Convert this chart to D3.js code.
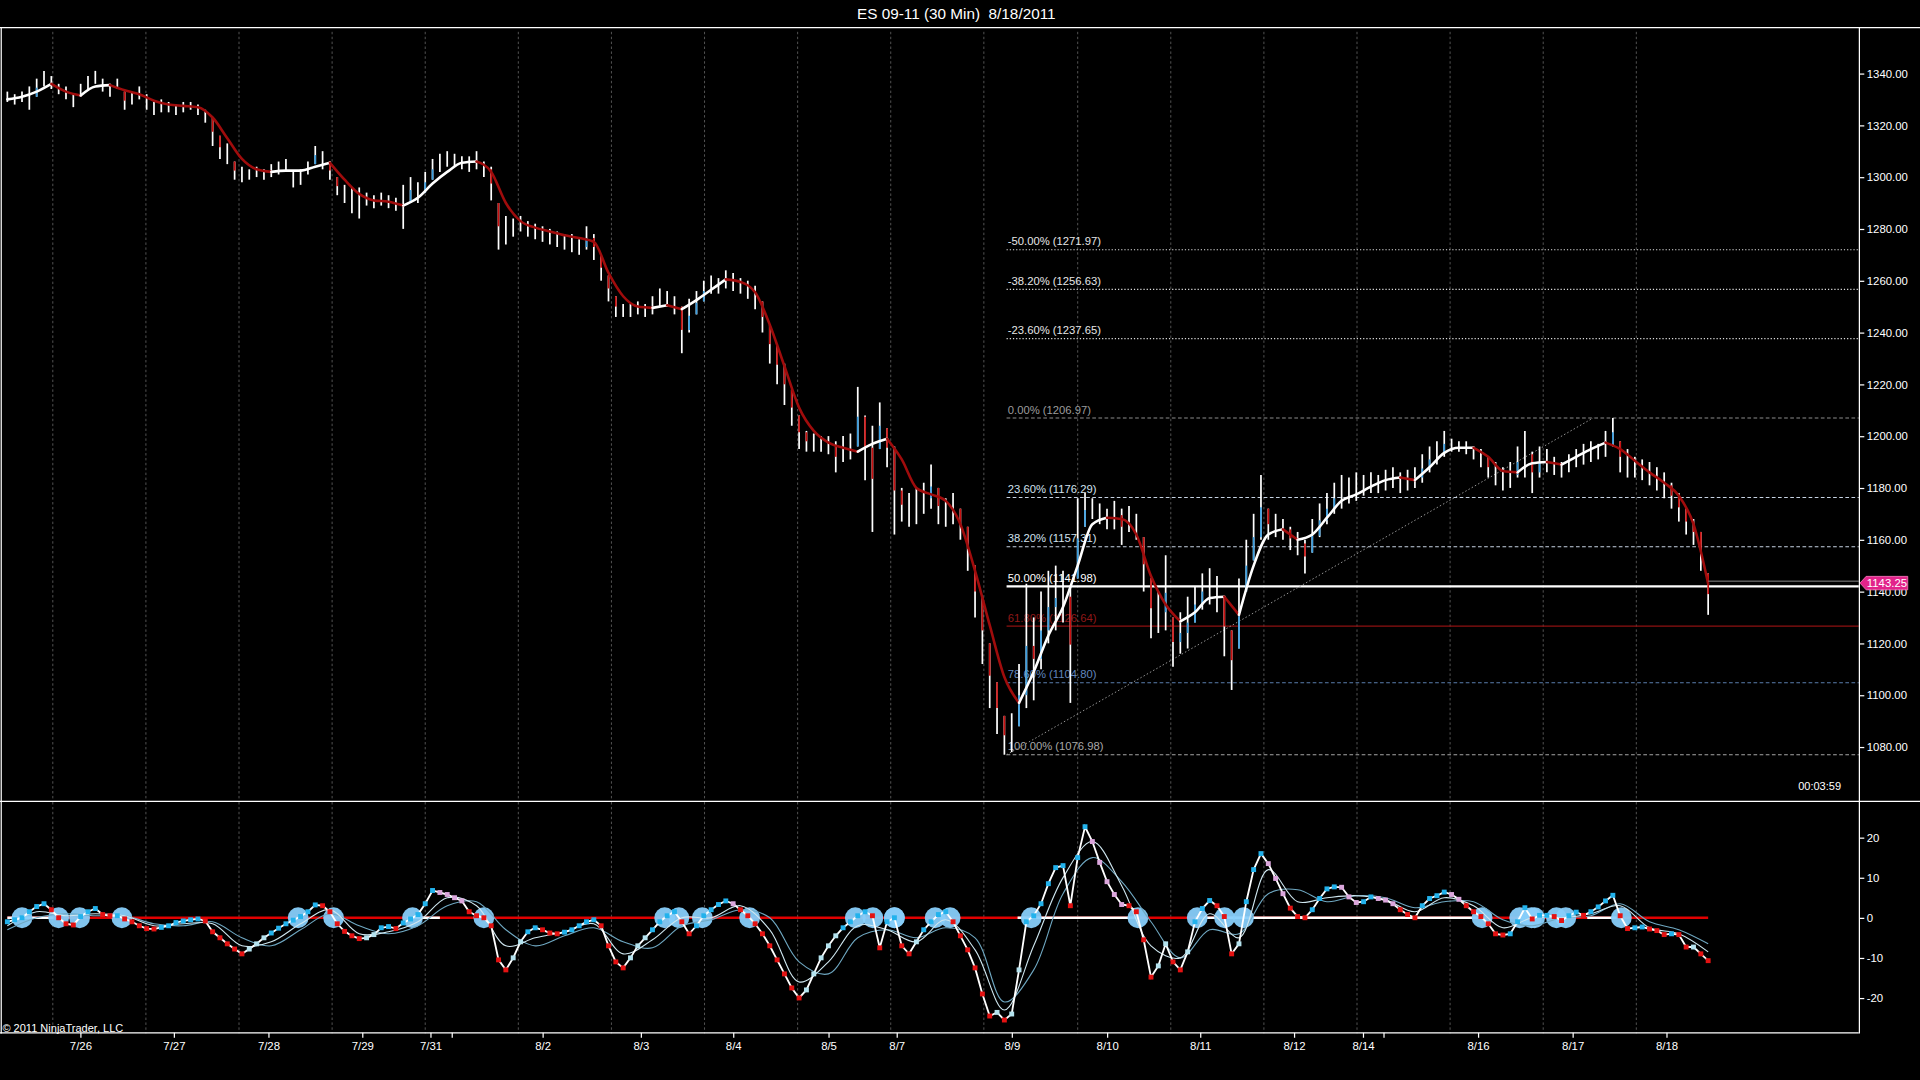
<!DOCTYPE html>
<html>
<head>
<meta charset="utf-8">
<script src="https://cdn.jsdelivr.net/npm/d3@7"></script>
<style>
html, body { margin: 0; padding: 0; background: #000; overflow: hidden; }
svg { display: block; }
text { font-family: "Liberation Sans", Arial, sans-serif; fill: #fff; }
</style>
</head>
<body>
<svg id="chart" width="1920" height="1080" viewBox="0 0 1568 882"></svg>
<script>
// ES 09-11 30 min, one entry per drawn bar (index 0..232)
const barHigh = [
  1333,1332,1333,1335,1338,1341,1339,1336,1335,1332,
  1336,1339,1341,1338,1336,1338,1333,1333,1335,1332,
  1329,1330,1329,1328,1329,1329,1328,1326,1323,1316,
  1313,1306,1304,1303,1304,1303,1305,1306,1307,1302,
  1303,1306,1312,1310,1306,1300,1297,1296,1296,1294,
  1293,1294,1293,1292,1297,1300,1298,1302,1307,1309,
  1310,1309,1308,1308,1310,1306,1304,1290,1285,1284,
  1285,1283,1282,1281,1280,1279,1278,1278,1276,1281,
  1278,1270,1262,1254,1251,1251,1252,1251,1254,1257,
  1256,1254,1250,1253,1256,1260,1262,1261,1264,1263,
  1261,1260,1258,1252,1243,1235,1228,1218,1208,1202,
  1201,1200,1200,1198,1200,1201,1219,1208,1204,1213,
  1203,1196,1180,1178,1180,1182,1189,1180,1176,1178,
  1172,1165,1150,1138,1120,1105,1092,1093,1112,1143,
  1130,1140,1148,1150,1148,1142,1176,1178,1176,1174,
  1172,1175,1172,1173,1170,1161,1145,1140,1154,1130,
  1132,1138,1142,1147,1149,1146,1138,1125,1145,1160,
  1170,1185,1172,1170,1168,1165,1163,1160,1168,1174,
  1178,1182,1185,1184,1186,1185,1186,1185,1187,1188,
  1186,1187,1188,1193,1196,1198,1202,1199,1198,1198,
  1196,1195,1192,1190,1188,1190,1196,1202,1194,1196,
  1195,1192,1190,1193,1195,1197,1198,1197,1202,1207,
  1198,1195,1192,1191,1190,1188,1186,1182,1178,1172,
  1168,1163,1147
];
const barLow = [
  1329,1328,1329,1326,1331,1335,1334,1332,1330,1327,
  1331,1334,1336,1333,1331,1334,1326,1328,1330,1326,
  1324,1325,1325,1324,1325,1326,1324,1321,1312,1307,
  1305,1299,1298,1299,1300,1299,1300,1301,1302,1296,
  1297,1301,1305,1303,1299,1293,1290,1286,1284,1289,
  1288,1289,1288,1287,1280,1290,1290,1294,1299,1302,
  1304,1304,1303,1302,1303,1300,1291,1272,1274,1277,
  1279,1277,1276,1275,1274,1273,1272,1271,1270,1272,
  1268,1260,1252,1246,1246,1246,1247,1246,1247,1250,
  1250,1247,1232,1240,1247,1252,1255,1255,1257,1256,
  1255,1253,1249,1240,1228,1220,1212,1204,1195,1194,
  1194,1194,1193,1186,1190,1191,1196,1183,1163,1195,
  1188,1162,1167,1165,1166,1170,1172,1166,1165,1166,
  1160,1148,1130,1112,1095,1085,1077,1078,1088,1095,
  1098,1110,1120,1125,1128,1097,1145,1165,1168,1166,
  1164,1164,1158,1163,1160,1140,1122,1124,1125,1111,
  1116,1118,1128,1133,1135,1132,1115,1102,1118,1140,
  1152,1160,1160,1161,1160,1156,1154,1147,1155,1161,
  1166,1170,1172,1174,1175,1177,1178,1178,1179,1180,
  1178,1179,1180,1182,1186,1189,1192,1194,1194,1193,
  1191,1188,1184,1181,1179,1180,1184,1184,1178,1184,
  1186,1185,1184,1186,1188,1189,1190,1191,1192,1196,
  1186,1184,1184,1183,1181,1179,1176,1172,1167,1162,
  1158,1148,1131
];
// moving average, one value every 2 bars
const maValues = [
  1330,1331,1333,1336,1333,1331.5,1335,1335.5,1333.5,1332,
  1329.5,1328,1327.5,1327,1323,1315,1307,1303,1302,1302.5,
  1302.5,1304,1305.5,1299,1293.5,1291,1290.5,1289,1292,1297.5,
  1302,1305.5,1306,1302,1290,1283,1280.5,1279,1277.5,1276.5,
  1275,1263,1254,1250,1249.5,1250.5,1249,1252.5,1256.5,1260.5,
  1259.5,1255.5,1243,1227,1211,1202,1197.5,1195.5,1194,1197,
  1199,1191,1180,1177.5,1175,1166,1148,1127,1107,1097,
  1109,1123,1134,1150,1166,1168.5,1168,1162,1146,1135,
  1128.5,1132,1137.5,1138,1131,1150,1162,1164,1160,1162,
  1168.5,1175,1177.5,1180.5,1183,1184,1183,1188,1193.5,1195.5,
  1195.5,1192,1186.5,1186,1189.5,1190,1189,1192,1195,1197.5,
  1195,1190.5,1186,1182,1177,1166,1143
];
// oscillator, one value per bar
const oscValues = [
  -1,-0.5,0,1.5,2.8,3.5,2,0,-1.5,-1.8,
  0.3,1.5,2.3,0.8,0.5,0.5,-0.3,-1,-2,-2.7,
  -2.8,-2.4,-2,-1.2,-0.8,-0.5,-0.3,-0.8,-3.5,-5,
  -6.5,-7.8,-9,-7.8,-6.5,-5,-3.8,-2.6,-1.5,-0.6,
  0.3,1.5,3.2,3,1.5,-1.5,-3.4,-4.5,-5.2,-5,
  -4.2,-2.5,-2.2,-2.7,-1.3,-0.3,0.8,3.5,6.8,6.3,
  5.8,5,4.2,1.5,0.5,0,-2,-10.5,-13,-10,
  -6,-3.5,-2.5,-3,-3.8,-4,-3.6,-3,-2,-1,
  -0.5,-2,-7,-11,-12.5,-10,-7,-5,-3,-1,
  0.5,1.5,-1,-4,-2,0.5,2,3.3,4.2,3.5,
  2,0.5,-1.5,-4,-7,-10.5,-14,-17.5,-20,-18,
  -14,-10,-7,-4.5,-2.5,-1,0.5,1.5,0.5,-7.5,
  -1,0,-7,-9,-6,-3,-1,0.8,1.5,-1,
  -4.5,-8,-12.5,-19,-24.5,-23.6,-25.5,-24,-13,-1,
  0.5,3.5,8.5,12.5,13,3,15,22.7,19,13.8,
  9,5.8,3.3,3,1.5,-5.5,-14.8,-12,-6.5,-11,
  -13,-8.5,-1,2.3,4.3,3,0.3,-9,-6.5,4,
  12,16,13.5,9.8,6,2.4,0.3,0,2,4.8,
  7.2,7.7,7.6,5.2,3.8,4,5.2,4.8,4.4,3.5,
  2,0.8,0,3,4.8,5.5,6.4,5.8,4.6,3,
  1.5,0.3,-1.5,-4,-4.3,-4,-1,2.5,-0.3,0.6,
  0.6,0.3,-0.7,0.5,1.4,0.6,1.5,2.7,4.2,5.6,
  0.5,-2.7,-2.5,-2.3,-2.8,-3.2,-4.2,-4,-4.2,-7.3,
  -7.3,-9,-10.7
];
// two signal lines, one value every 4 bars
const signalFast = [
  -2,1.5,0.5,1,0.5,-2,-1.5,-1.5,-7,-6,
  -1.5,2,-4,-3.5,-1,5,3,-7,-5,-3.5,
  -1.5,-9,-5.5,0,0,3,-3,-16,-11,-2,
  -3,-6,-0.5,-8,-23,-7,10,19,8,-7,
  -10,1,-5,12,4,5,5.5,4.5,1.5,5,
  3,-2.5,0,0,1,3,-2.5,-4,-8.5
];
const signalSlow = [
  -3,0,1,0.5,0.5,-1.5,-2,-1,-5,-7,
  -3,1,-2,-4,-2,3,4,-3,-7,-4.5,
  -2.5,-6,-7.5,-2,-0.5,2,0,-11,-14,-5,
  -3,-5,-2.5,-5,-21,-13,6,15,9,-1,
  -10,-3,-4,6,7,4,5.5,5,2.5,4,
  4,-0.5,-2,0,0.5,3.5,-1,-3,-6.5
];
// bar-index ranges where the zero line is drawn white
const zeroWhiteRanges = [[0, 6.3], [54.5, 59], [137.8, 154.3], [162, 201], [206, 209], [215.5, 219.5]];

const dateTickIdx = [9.95, 22.7, 35.6, 48.4, 57.7, 60.6, 73, 86.4, 99, 112, 121.3, 137, 150, 162.7, 175.5, 184.9, 187.7, 200.6, 213.5, 226.3];
const dateTickLabels = ['7/26', '7/27', '7/28', '7/29', '7/31', '', '8/2', '8/3', '8/4', '8/5', '8/7', '8/9', '8/10', '8/11', '8/12', '8/14', '', '8/16', '8/17', '8/18'];
const gridIdx = [6.2, 18.9, 31.6, 44.3, 57.0, 69.7, 82.4, 95.1, 107.8, 120.5, 133.2, 146.0, 158.7, 171.4, 184.1, 196.8, 209.5, 222.2];

const priceTicks = [1080, 1100, 1120, 1140, 1160, 1180, 1200, 1220, 1240, 1260, 1280, 1300, 1320, 1340];
const oscTicks = [-20, -10, 0, 10, 20];

const fibPct = [-50, -38.2, -23.6, 0, 23.6, 38.2, 50, 61.8, 78.6, 100];
const fibPrice = [1271.97, 1256.63, 1237.65, 1206.97, 1176.29, 1157.31, 1141.98, 1126.64, 1104.80, 1076.98];
const fibStartIdx = 136.3;
const trendLine = [[136.3, 1076.98], [216.3, 1206.97]];
const lastPrice = 1143.25;

// ---- layout
const W = 1568, H = 882;
const plotR = 1518, priceTop = 22, priceBot = 654, oscBot = 844;
const font = '"Liberation Sans", Arial, sans-serif';

const svg = d3.select('#chart');
svg.append('rect').attr('width', W).attr('height', H).attr('fill', '#000');

const x = d3.scaleLinear().domain([0, 232]).range([6, 1395]);
const yP = d3.scaleLinear().domain([1080, 1340]).range([610, 60]);
const yO = d3.scaleLinear().domain([-20, 20]).range([815, 684]);

// title
svg.append('text').attr('x', 781).attr('y', 15.5).attr('text-anchor', 'middle')
  .attr('font-size', 12.5).style('white-space', 'pre')
  .text('ES 09-11 (30 Min)  8/18/2011');

// vertical grid, both panels
const grid = svg.append('g').attr('stroke', '#555555').attr('stroke-width', 0.8).attr('stroke-dasharray', '2,2');
gridIdx.forEach(g => {
  grid.append('line').attr('x1', x(g)).attr('x2', x(g)).attr('y1', priceTop + 4).attr('y2', priceBot);
  grid.append('line').attr('x1', x(g)).attr('x2', x(g)).attr('y1', priceBot + 1).attr('y2', oscBot);
});

// ---- fibonacci retracement
const fibStyle = {
  '-50': { stroke: '#dddddd', dash: '1,1.6', w: 0.9, label: '#e6e6e6' },
  '-38.2': { stroke: '#dddddd', dash: '1,1.6', w: 0.9, label: '#e6e6e6' },
  '-23.6': { stroke: '#dddddd', dash: '1,1.6', w: 0.9, label: '#e6e6e6' },
  '0': { stroke: '#8c8c8c', dash: '3,2', w: 0.9, label: '#9c9c9c' },
  '23.6': { stroke: '#c6d2e2', dash: '3,2', w: 0.9, label: '#d2e0ee' },
  '38.2': { stroke: '#c6d2e2', dash: '3,2', w: 0.9, label: '#d2e0ee' },
  '50': { stroke: '#ffffff', dash: null, w: 2, label: '#ffffff' },
  '61.8': { stroke: '#8e1010', dash: null, w: 1, label: '#901818' },
  '78.6': { stroke: '#5a7dad', dash: '3,2', w: 0.9, label: '#6186bd' },
  '100': { stroke: '#a4a4a4', dash: '3,2', w: 0.9, label: '#a8a8a8' }
};
const fib = svg.append('g');
fibPct.forEach((p, k) => {
  const st = fibStyle[String(p)];
  const yy = yP(fibPrice[k]);
  fib.append('line').attr('x1', x(fibStartIdx)).attr('x2', plotR).attr('y1', yy).attr('y2', yy)
    .attr('stroke', st.stroke).attr('stroke-width', st.w).attr('stroke-dasharray', st.dash);
  fib.append('text').attr('x', x(fibStartIdx) + 1).attr('y', yy - 3.5).attr('font-size', 9.2)
    .style('fill', st.label)
    .text(p.toFixed(2) + '% (' + fibPrice[k].toFixed(2) + ')');
});

// fib trend line
svg.append('line')
  .attr('x1', x(trendLine[0][0])).attr('y1', yP(trendLine[0][1]))
  .attr('x2', x(trendLine[1][0])).attr('y2', yP(trendLine[1][1]))
  .attr('stroke', '#9a9a9a').attr('stroke-width', 0.8).attr('stroke-dasharray', '1.2,1.8');

// ---- price bars
const mid = i => (barHigh[i] + barLow[i]) / 2;
const bars = svg.append('g');
bars.selectAll('line.wick').data(barHigh).enter().append('line')
  .attr('class', 'wick')
  .attr('x1', (d, i) => x(i)).attr('x2', (d, i) => x(i))
  .attr('y1', d => yP(d)).attr('y2', (d, i) => yP(barLow[i]))
  .attr('stroke', '#ffffff').attr('stroke-width', 1.4);

const bodies = barHigh.map((h, i) => {
  const o = i === 0 ? mid(0) : Math.max(barLow[i], Math.min(h, mid(i - 1)));
  const c = mid(i);
  return { i, o, c };
}).filter(b => Math.abs(b.c - b.o) > 3);
bars.selectAll('line.body').data(bodies).enter().append('line')
  .attr('class', 'body')
  .attr('x1', d => x(d.i)).attr('x2', d => x(d.i))
  .attr('y1', d => yP(d.o)).attr('y2', d => yP(d.c))
  .attr('stroke', d => d.c > d.o ? '#3a9ee0' : '#c81010').attr('stroke-width', 1.4);

// ---- moving average, white when rising, dark red when falling
const maPts = maValues.map((v, k) => [k * 2, v]);
const maRuns = [];
let run = [maPts[0]], dir = null;
for (let k = 1; k < maPts.length; k++) {
  const d = maPts[k][1] >= maPts[k - 1][1] ? 1 : -1;
  if (dir === null || d === dir) { run.push(maPts[k]); dir = d; }
  else { maRuns.push({ dir, pts: run }); run = [maPts[k - 1], maPts[k]]; dir = d; }
}
maRuns.push({ dir, pts: run });
const maLine = d3.line().x(d => x(d[0])).y(d => yP(d[1])).curve(d3.curveMonotoneX);
svg.append('g').selectAll('path').data(maRuns).enter().append('path')
  .attr('d', d => maLine(d.pts))
  .attr('fill', 'none')
  .attr('stroke', d => d.dir > 0 ? '#ffffff' : '#a00c0c')
  .attr('stroke-width', 2.1).attr('stroke-linecap', 'round');

// last price line
const yLast = yP(lastPrice);
svg.append('line').attr('x1', x(232)).attr('x2', plotR).attr('y1', yLast - 1.6).attr('y2', yLast - 1.6)
  .attr('stroke', '#8a8a8a').attr('stroke-width', 0.8);

// ---- oscillator panel
const osc = svg.append('g');
osc.append('line').attr('x1', x(0)).attr('x2', x(232)).attr('y1', yO(0)).attr('y2', yO(0))
  .attr('stroke', '#e00000').attr('stroke-width', 2);
zeroWhiteRanges.forEach(r => {
  osc.append('line').attr('x1', x(r[0])).attr('x2', x(r[1])).attr('y1', yO(0)).attr('y2', yO(0))
    .attr('stroke', '#ffffff').attr('stroke-width', 2);
});

// zero crossings
const crossings = [];
for (let i = 1; i < oscValues.length; i++) {
  const a = oscValues[i - 1], b = oscValues[i];
  if ((a >= 0) !== (b >= 0)) crossings.push(i - 1 + a / (a - b));
}
osc.selectAll('circle').data(crossings).enter().append('circle')
  .attr('cx', d => x(d)).attr('cy', yO(0)).attr('r', 8.5)
  .attr('fill', '#87cefa').attr('opacity', 0.95);

const sigLine = d3.line().x((d, k) => x(k * 4)).y(d => yO(d)).curve(d3.curveCatmullRom);
osc.append('path').attr('d', sigLine(signalSlow)).attr('fill', 'none')
  .attr('stroke', '#6fa8c2').attr('stroke-width', 0.9);
osc.append('path').attr('d', sigLine(signalFast)).attr('fill', 'none')
  .attr('stroke', '#cfe7f0').attr('stroke-width', 0.9);

const oscLine = d3.line().x((d, i) => x(i)).y(d => yO(d));
osc.append('path').attr('d', oscLine(oscValues)).attr('fill', 'none')
  .attr('stroke', '#ffffff').attr('stroke-width', 1.5);

const dotColor = (v, i) => {
  const prev = i === 0 ? v : oscValues[i - 1];
  if (v >= prev) return v < -4 ? '#b4e2ee' : '#22b2ec';
  return v > 3 ? '#dba6dc' : '#e41212';
};
const ds = 4;
osc.selectAll('rect').data(oscValues).enter().append('rect')
  .attr('x', (d, i) => x(i) - ds / 2).attr('y', d => yO(d) - ds / 2)
  .attr('width', ds).attr('height', ds)
  .attr('fill', (d, i) => dotColor(d, i));

// ---- frame
const frame = svg.append('g').attr('stroke', '#ffffff').attr('stroke-width', 1);
frame.append('line').attr('x1', 0).attr('x2', W).attr('y1', priceTop + 0.5).attr('y2', priceTop + 0.5);
frame.append('line').attr('x1', 0).attr('x2', W).attr('y1', priceBot + 0.5).attr('y2', priceBot + 0.5);
frame.append('line').attr('x1', 0).attr('x2', plotR).attr('y1', oscBot - 0.5).attr('y2', oscBot - 0.5);
frame.append('line').attr('x1', 1).attr('x2', 1).attr('y1', priceTop).attr('y2', oscBot);
frame.append('line').attr('x1', plotR + 0.5).attr('x2', plotR + 0.5).attr('y1', priceTop).attr('y2', oscBot);

// ---- axes
function styleAxis(g) {
  g.select('.domain').remove();
  g.attr('font-family', font).attr('font-size', 9.3);
  g.selectAll('.tick line').attr('stroke', '#ffffff');
  g.selectAll('.tick text').style('fill', '#ffffff');
}
svg.append('g').attr('transform', `translate(${plotR + 0.5},0)`)
  .call(d3.axisRight(yP).tickValues(priceTicks).tickFormat(d3.format('.2f')).tickSize(4).tickPadding(2))
  .call(styleAxis);
svg.append('g').attr('transform', `translate(${plotR + 0.5},0)`)
  .call(d3.axisRight(yO).tickValues(oscTicks).tickFormat(d => String(d)).tickSize(4).tickPadding(2))
  .call(styleAxis);
svg.append('g').attr('transform', `translate(0,${oscBot - 0.5})`)
  .call(d3.axisBottom(x).tickValues(dateTickIdx).tickFormat((d, i) => dateTickLabels[i]).tickSize(4).tickPadding(3))
  .call(styleAxis);

// current price marker
const mk = svg.append('g');
mk.append('path')
  .attr('d', `M${plotR + 1},${yLast} L${plotR + 6},${yLast - 5.5} L1558,${yLast - 5.5} L1558,${yLast + 5.5} L${plotR + 6},${yLast + 5.5} Z`)
  .attr('fill', '#e2238a').attr('stroke', '#ff86c4').attr('stroke-width', 0.6);
mk.append('text').attr('x', 1541).attr('y', yLast + 3.3).attr('text-anchor', 'middle')
  .attr('font-size', 9.3).text(lastPrice.toFixed(2));

// captions
svg.append('text').attr('x', 1486).attr('y', 645).attr('text-anchor', 'middle').attr('font-size', 9)
  .text('00:03:59');
svg.append('text').attr('x', 2).attr('y', 842.5).attr('font-size', 9)
  .text('\u00a9 2011 NinjaTrader, LLC');
</script>
</body>
</html>
